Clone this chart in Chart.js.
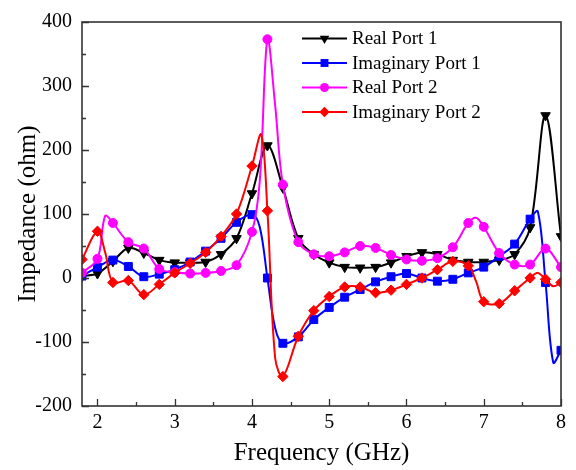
<!DOCTYPE html>
<html>
<head>
<meta charset="utf-8">
<script src="https://cdn.jsdelivr.net/npm/chart.js@4/dist/chart.umd.min.js"></script>
<style>
  html, body { margin: 0; padding: 0; background: #fff; }
  #wrap { width: 576px; height: 470px; position: relative; }
</style>
</head>
<body>
<div id="wrap"><canvas id="c" width="576" height="470"></canvas></div>
<script>
// ---- data ----
const freq = [1.8, 2.0, 2.2, 2.4, 2.6, 2.8, 3.0, 3.2, 3.4, 3.6, 3.8, 4.0, 4.2, 4.4, 4.6, 4.8,
              5.0, 5.2, 5.4, 5.6, 5.8, 6.0, 6.2, 6.4, 6.6, 6.8, 7.0, 7.2, 7.4, 7.6, 7.8, 8.0];

const realPort1 = [3, 7, 26, 47, 39, 28, 24, 24, 25, 37, 62, 132, 207, 141, 62, 37,
                   24, 17, 16, 17, 24, 34, 40, 37, 28, 25, 25, 28, 37, 79, 254, 65];
const imagPort1 = [3, 17, 28, 18, 2, 6, 13, 25, 42, 62, 87, 99, 0, -102, -92, -65,
                   -46, -30, -18, -6, 2, 7, 0, -5, -2, 8, 17, 34, 53, 92, -7, -113];
const realPort2 = [8, 30, 86, 56, 46, 14, 9, 7, 8, 11, 20, 72, 373, 146, 56, 37,
                   34, 40, 50, 47, 36, 29, 27, 31, 48, 86, 80, 39, 21, 21, 46, 17];
const imagPort2 = [29, 73, -7, -4, -26, -10, 8, 23, 40, 65, 100, 175, 105, -154, -91, -51,
                   -29, -14, -14, -23, -19, -10, 0, 13, 26, 19, -37, -40, -20, 0, -2, -7];

// extra curve points between markers (sharp features of the curves)
const realPort1ExtraF = [];
const realPort1Extra = [];
const imagPort1ExtraF = [4.1, 4.3, 7.7, 7.9];
const imagPort1Extra = [80, -78, 104, -132];
const realPort2ExtraF = [2.1, 4.1, 4.3, 6.9];
const realPort2Extra = [97, 150, 270, 94];
const imagPort2ExtraF = [2.1, 4.12, 4.3, 6.9, 7.7, 7.9];
const imagPort2Extra = [40, 224, -125, -5, 8, -13];

const seriesNames = ['Real Port 1', 'Imaginary Port 1', 'Real Port 2', 'Imaginary Port 2'];
const xTicks = [2, 3, 4, 5, 6, 7, 8];
const yTicks = [-200, -100, 0, 100, 200, 300, 400];

const xTitle = 'Frequency (GHz)';
const yTitle = 'Impedance (ohm)';

// ---- build ----
function build(vals, exF, exV) {
  const pts = freq.map((x, i) => ({ x: x, y: vals[i], m: true }));
  exF.forEach((x, i) => pts.push({ x: x, y: exV[i], m: false }));
  pts.sort((a, b) => a.x - b.x);
  return pts;
}

const styles = [
  { color: '#000000', pointStyle: 'triangle', rotation: 180, r: 5.5, order: 4 },
  { color: '#0000ff', pointStyle: 'rect', rotation: 0, r: 5.6, order: 3 },
  { color: '#ff00ff', pointStyle: 'circle', rotation: 0, r: 4.5, order: 2 },
  { color: '#ff0000', pointStyle: 'rectRot', rotation: 0, r: 5.2, order: 1 }
];

const dataArr = [
  build(realPort1, realPort1ExtraF, realPort1Extra),
  build(imagPort1, imagPort1ExtraF, imagPort1Extra),
  build(realPort2, realPort2ExtraF, realPort2Extra),
  build(imagPort2, imagPort2ExtraF, imagPort2Extra)
];

const datasets = dataArr.map((d, i) => {
  const s = styles[i];
  return {
    label: seriesNames[i],
    data: d,
    borderColor: s.color,
    backgroundColor: s.color,
    borderWidth: 2,
    tension: 0.35,
    pointStyle: s.pointStyle,
    rotation: s.rotation,
    pointBorderWidth: 1,
    pointRadius: ctx => (ctx.raw && ctx.raw.m) ? s.r : 0,
    pointHoverRadius: ctx => (ctx.raw && ctx.raw.m) ? s.r : 0,
    order: s.order
  };
});

const FONT = "'Liberation Serif', 'Times New Roman', serif";

function drawMarker(ctx, style, x, y, r, rot) {
  ctx.beginPath();
  if (style === 'triangle') {
    const h = r;
    const a = rot ? Math.PI : 0;
    for (let k = 0; k < 3; k++) {
      const ang = a - Math.PI / 2 + k * 2 * Math.PI / 3;
      const px = x + r * Math.cos(ang), py = y + r * Math.sin(ang);
      if (k === 0) ctx.moveTo(px, py); else ctx.lineTo(px, py);
    }
    ctx.closePath();
  } else if (style === 'rect') {
    const s = Math.SQRT1_2 * r;
    ctx.rect(x - s, y - s, 2 * s, 2 * s);
  } else if (style === 'circle') {
    ctx.arc(x, y, r, 0, Math.PI * 2);
  } else if (style === 'rectRot') {
    ctx.moveTo(x, y - r); ctx.lineTo(x + r, y); ctx.lineTo(x, y + r); ctx.lineTo(x - r, y);
    ctx.closePath();
  }
  ctx.fill();
}

const framePlugin = {
  id: 'frame',
  afterDatasetsDraw(chart) {
    const ctx = chart.ctx;
    const a = chart.chartArea;
    const xs = chart.scales.x, ys = chart.scales.y;
    ctx.save();
    ctx.strokeStyle = '#333';
    ctx.lineWidth = 1.6;
    ctx.strokeRect(a.left, a.top, a.right - a.left, a.bottom - a.top);
    ctx.lineWidth = 1.3;
    ctx.beginPath();
    // x ticks (inward), major + minor
    xTicks.forEach(v => {
      const px = Math.round(xs.getPixelForValue(v)) + 0.5;
      ctx.moveTo(px, a.bottom); ctx.lineTo(px, a.bottom - 7);
    });
    for (let v = 1.5; v <= 8; v += 1) {
      if (v < xs.min) continue;
      const px = Math.round(xs.getPixelForValue(v)) + 0.5;
      ctx.moveTo(px, a.bottom); ctx.lineTo(px, a.bottom - 4);
    }
    yTicks.forEach(v => {
      const py = Math.round(ys.getPixelForValue(v)) + 0.5;
      ctx.moveTo(a.left, py); ctx.lineTo(a.left + 7, py);
    });
    for (let v = -150; v < 400; v += 100) {
      const py = Math.round(ys.getPixelForValue(v)) + 0.5;
      ctx.moveTo(a.left, py); ctx.lineTo(a.left + 4, py);
    }
    ctx.stroke();

    // legend
    const rowsY = [38.5, 63, 87.5, 112];
    const x0 = 302, x1 = 347;
    ctx.font = '19px ' + FONT;
    ctx.textBaseline = 'middle';
    ctx.textAlign = 'left';
    seriesNames.forEach((name, i) => {
      const s = styles[i];
      const y = rowsY[i];
      ctx.strokeStyle = s.color;
      ctx.fillStyle = s.color;
      ctx.lineWidth = 2;
      ctx.beginPath();
      ctx.moveTo(x0, y); ctx.lineTo(x1, y);
      ctx.stroke();
      drawMarker(ctx, s.pointStyle, (x0 + x1) / 2, y, s.r, s.rotation);
      ctx.fillStyle = '#000';
      ctx.fillText(name, 352, y + 1);
    });
    ctx.restore();
  }
};

new Chart(document.getElementById('c'), {
  type: 'line',
  data: { datasets: datasets },
  options: {
    responsive: false,
    animation: false,
    events: [],
    layout: { padding: { top: 18, right: 15, left: 0, bottom: 0 } },
    plugins: { legend: { display: false }, tooltip: { enabled: false } },
    scales: {
      x: {
        type: 'linear',
        min: 1.8,
        max: 8,
        grid: { display: false, drawTicks: false, tickLength: 0 },
        border: { display: false },
        afterBuildTicks: s => { s.ticks = xTicks.map(v => ({ value: v })); },
        afterFit: s => { s.height = 64; },
        ticks: {
          color: '#000',
          font: { family: FONT, size: 20 },
          padding: 5,
          maxRotation: 0,
          autoSkip: false
        },
        title: {
          display: true,
          text: xTitle,
          color: '#000',
          font: { family: FONT, size: 25 },
          padding: { top: 0, bottom: 2 }
        }
      },
      y: {
        type: 'linear',
        min: -200,
        max: 400,
        grid: { display: false, drawTicks: false, tickLength: 0 },
        border: { display: false },
        afterBuildTicks: s => { s.ticks = yTicks.map(v => ({ value: v })); },
        afterFit: s => { s.width = 82; },
        ticks: {
          color: '#000',
          font: { family: FONT, size: 20 },
          padding: 10,
          autoSkip: false
        },
        title: {
          display: true,
          text: yTitle,
          color: '#000',
          font: { family: FONT, size: 25 },
          padding: { top: 13, bottom: 0 }
        }
      }
    }
  },
  plugins: [framePlugin]
});
</script>
</body>
</html>
